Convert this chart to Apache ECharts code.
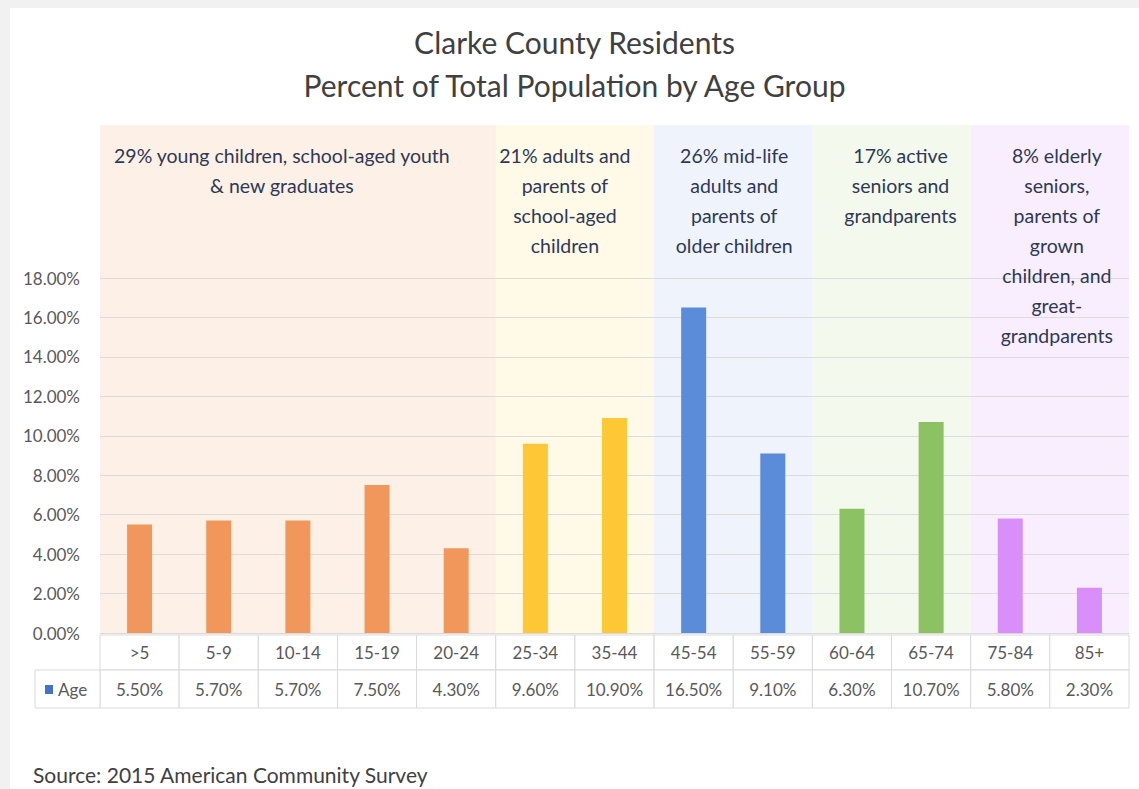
<!DOCTYPE html>
<html>
<head>
<meta charset="utf-8">
<script src="https://cdn.jsdelivr.net/npm/echarts@6/dist/echarts.min.js"></script>
<style>
  html, body { margin: 0; padding: 0; background: #f1f1f1; }
  #chart { position: absolute; left: 10px; top: 8px; width: 1129px; height: 781px; background: #ffffff; }
</style>
</head>
<body>
<div id="chart"></div>
<script>
// ---- data ----
const categories = ['>5', '5-9', '10-14', '15-19', '20-24', '25-34', '35-44', '45-54', '55-59', '60-64', '65-74', '75-84', '85+'];
const values = [5.5, 5.7, 5.7, 7.5, 4.3, 9.6, 10.9, 16.5, 9.1, 6.3, 10.7, 5.8, 2.3];
const groupOf = [0, 0, 0, 0, 0, 1, 1, 2, 2, 3, 3, 4, 4];
const groupTexts = [
  '29% young children, school-aged youth\n& new graduates',
  '21% adults and\nparents of\nschool-aged\nchildren',
  '26% mid-life\nadults and\nparents of\nolder children',
  '17% active\nseniors and\ngrandparents',
  '8% elderly\nseniors,\nparents of\ngrown\nchildren, and\ngreat-\ngrandparents'
];
const seriesName = 'Age';
const titleLines = ['Clarke County Residents', 'Percent of Total Population by Age Group'];
const sourceText = 'Source: 2015 American Community Survey';
const yTicks = { min: 0, max: 18, interval: 2 };

// ---- styles ----
const barColors = ['#F1975C', '#FDC735', '#5B8CDA', '#8CC164', '#D98EF9'];
const bandColors = ['#FDF1E7', '#FFFAE7', '#EEF3FC', '#F3F9EC', '#F8EEFD'];
const textShift = [-16, -10, 1, 9, 7];
const FONT = 'Lato, "Open Sans", sans-serif';
const fmt = v => v.toFixed(2) + '%';

// band ranges derived from group membership
const bandRanges = [];
groupOf.forEach((g, i) => {
  if (!bandRanges[g]) bandRanges[g] = [i, i, g];
  else bandRanges[g][1] = i;
});

const chart = echarts.init(document.getElementById('chart'), null, { renderer: 'svg' });

function renderBand(params, api) {
  const s = api.value(0), e = api.value(1), g = api.value(2);
  const w = api.size([1, 0])[0];
  const x0 = api.coord([s, 0])[0] - w / 2;
  const x1 = api.coord([e, 0])[0] + w / 2;
  const yb = api.coord([s, 0])[1];
  const yt = params.coordSys.y - 153;
  return {
    type: 'rect', shape: { x: x0, y: yt, width: x1 - x0, height: yb - yt },
    style: { fill: bandColors[g] }
  };
}

function renderBandText(params, api) {
  const s = api.value(0), e = api.value(1), g = api.value(2);
  const w = api.size([1, 0])[0];
  const x0 = api.coord([s, 0])[0] - w / 2;
  const x1 = api.coord([e, 0])[0] + w / 2;
  return {
    type: 'text',
    style: { text: groupTexts[g], x: (x0 + x1) / 2 + textShift[g], y: params.coordSys.y - 138,
      align: 'center', verticalAlign: 'top', lineHeight: 30, fontSize: 19.5, fontFamily: FONT, fill: '#2E3856' }
  };
}

function renderTable(params, api) {
  const i = api.value(0);
  const c = api.coord([i, 0]);
  const w = api.size([1, 0])[0];
  const x0 = c[0] - w / 2, y0 = c[1];
  const border = '#D9D9D9';
  const txt = { fontSize: 17, fontFamily: FONT, fill: '#595959', align: 'center', verticalAlign: 'middle' };
  const children = [
    { type: 'rect', shape: { x: x0, y: y0 + 2, width: w, height: 35 }, style: { fill: '#fff', stroke: border, lineWidth: 1 } },
    { type: 'rect', shape: { x: x0, y: y0 + 37, width: w, height: 38 }, style: { fill: '#fff', stroke: border, lineWidth: 1 } },
    { type: 'text', style: Object.assign({ text: categories[i], x: c[0], y: y0 + 19 }, txt) },
    { type: 'text', style: Object.assign({ text: fmt(values[i]), x: c[0], y: y0 + 56 }, txt) }
  ];
  if (i === 0) {
    children.push(
      { type: 'rect', shape: { x: x0 - 65, y: y0 + 37, width: 65, height: 38 }, style: { fill: '#fff', stroke: border, lineWidth: 1 } },
      { type: 'rect', shape: { x: x0 - 55, y: y0 + 52, width: 8, height: 9 }, style: { fill: '#4472C4' } },
      { type: 'text', style: Object.assign({}, txt, { text: seriesName, x: x0 - 42, y: y0 + 56, align: 'left' }) }
    );
  }
  return { type: 'group', children };
}

const option = {
  animation: false,
  title: {
    text: titleLines.join('\n'),
    left: 'center',
    top: 7,
    textStyle: { fontSize: 30, fontWeight: 'normal', fontFamily: FONT, color: '#404040', lineHeight: 43 }
  },
  graphic: [
    { type: 'text', left: 23, top: 756, style: { text: sourceText, fontSize: 21, fontFamily: FONT, fill: '#404040' } }
  ],
  grid: { left: 90, right: 10, top: 270, bottom: 156, containLabel: false },
  xAxis: {
    type: 'category',
    data: categories,
    axisLine: { show: true, lineStyle: { color: '#D9D9D9' } },
    axisTick: { show: false },
    axisLabel: { show: false },
    z: 1
  },
  yAxis: {
    type: 'value',
    min: yTicks.min, max: yTicks.max, interval: yTicks.interval,
    axisLine: { show: false },
    axisTick: { show: false },
    axisLabel: { formatter: v => fmt(v), fontSize: 17, fontFamily: FONT, color: '#595959', margin: 20 },
    splitLine: { lineStyle: { color: '#DCDCDC' } },
    z: 1
  },
  series: [
    {
      type: 'custom',
      name: 'bands',
      z: 0,
      silent: true,
      clip: false,
      renderItem: renderBand,
      encode: { x: [0, 1] },
      data: bandRanges
    },
    {
      type: 'bar',
      name: seriesName,
      z: 2,
      barWidth: 25,
      data: values.map((v, i) => ({ value: v, itemStyle: { color: barColors[groupOf[i]] } }))
    },
    {
      type: 'custom',
      name: 'bandText',
      z: 3,
      silent: true,
      clip: false,
      renderItem: renderBandText,
      encode: { x: [0, 1] },
      data: bandRanges
    },
    {
      type: 'custom',
      name: 'table',
      z: 3,
      silent: true,
      clip: false,
      renderItem: renderTable,
      encode: { x: 0, y: 1 },
      data: values.map((v, i) => [i, v])
    }
  ]
};
chart.setOption(option);
</script>
</body>
</html>
